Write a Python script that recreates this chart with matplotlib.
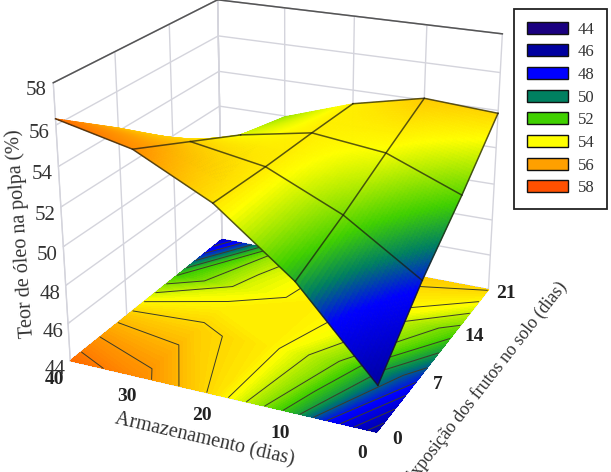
import numpy as np, matplotlib
matplotlib.use('Agg')
import matplotlib.pyplot as plt
from matplotlib.colors import LinearSegmentedColormap, Normalize
from matplotlib.patches import Patch
from matplotlib.transforms import ScaledTranslation

plt.rcParams['font.family'] = ['Liberation Serif', 'DejaVu Serif']

# ---- data ----
armazenamento = [0, 10, 20, 30, 40]
exposicao = [0, 7, 14, 21]
teor_exp0 = [46.35, 50.55, 53.55, 55.45, 56.3]
teor_exp7 = [49.1, 51.65, 53.4, 54.05, 54.15]
teor_exp14 = [51.35, 52.9, 53.35, 52.65, 51.0]
teor_exp21 = [53.85, 54.1, 53.25, 51.95, 47.5]
legend_values = [44, 46, 48, 50, 52, 54, 56, 58]
legend_colors = ['#1a0080', '#0000a0', '#0000ff', '#008060', '#40d000', '#ffff00', '#ffa000', '#ff5000']
z_ticks = [44, 46, 48, 50, 52, 54, 56, 58]

# ---- style ----
colour_stops = [44.0, 46.3, 48.8, 50.0, 51.1, 53.0, 55.0, 57.0]
GRID = '#d4d4dc'
arm = np.array(armazenamento, float)
exp = np.array(exposicao, float)
Z = np.array([teor_exp0, teor_exp7, teor_exp14, teor_exp21])  # rows: exp, cols: arm
X, Y = np.meshgrid(exp, arm, indexing='ij')

lo, hi = colour_stops[0], colour_stops[-1]
cmap = LinearSegmentedColormap.from_list(
    'teor', [((s - lo) / (hi - lo), c) for s, c in zip(colour_stops, legend_colors)], N=512)
norm = Normalize(lo, hi)

fig = plt.figure(figsize=(6.11, 4.72), dpi=100)
ax = fig.add_subplot(projection='3d', computed_zorder=False)
ax.set_xlim(0, 21); ax.set_ylim(0, 40); ax.set_zlim(44, 58)
ax.view_init(elev=21.981, azim=-155.2839)
ax.set_proj_type('persp', focal_length=0.5301)
ax.set_box_aspect((1.1435, 1.131, 1.0))
ax.set_position([0.0303, 0.013, 527.5344 / 611, 527.5344 / 472])

# floor map
ax.contourf(X, Y, Z, levels=np.arange(44, 58.01, 0.1), cmap=cmap, norm=norm,
            zdir='z', offset=44, zorder=1, antialiased=False)
ax.contour(X, Y, Z, levels=np.arange(44, 58.01, 0.7), colors='#3c3c28', linewidths=0.7,
           zdir='z', offset=44, zorder=2)

# surface, subdivided only so that the colour runs smoothly inside each cell
N = 24
u = np.linspace(0, len(exp) - 1, (len(exp) - 1) * N + 1)
v = np.linspace(0, len(arm) - 1, (len(arm) - 1) * N + 1)
i0 = np.minimum(u.astype(int), len(exp) - 2); j0 = np.minimum(v.astype(int), len(arm) - 2)
fu = (u - i0)[:, None]; fv = (v - j0)[None, :]
Zf = (Z[i0][:, j0] * (1 - fu) * (1 - fv) + Z[i0 + 1][:, j0] * fu * (1 - fv)
      + Z[i0][:, j0 + 1] * (1 - fu) * fv + Z[i0 + 1][:, j0 + 1] * fu * fv)
Xf, Yf = np.meshgrid(np.interp(u, np.arange(len(exp)), exp),
                     np.interp(v, np.arange(len(arm)), arm), indexing='ij')
cell = (Zf[:-1, :-1] + Zf[1:, :-1] + Zf[:-1, 1:] + Zf[1:, 1:]) / 4
fc = cmap(norm(cell))
surf = ax.plot_surface(Xf, Yf, Zf, facecolors=fc, rstride=1, cstride=1, shade=False,
                       linewidth=0.6, antialiased=True, zorder=3)
surf.set_edgecolors(fc.reshape(-1, 4))

# mesh lines that are visible in the reference
wire = dict(color='#1c1c10', alpha=0.72, lw=1.1, zorder=4)
ax.plot(X[0], Y[0], Z[0], **wire)
ax.plot(X[1, :4], Y[1, :4], Z[1, :4], **wire)
ax.plot(X[2, :4], Y[2, :4], Z[2, :4], **wire)
ax.plot(X[3, :3], Y[3, :3], Z[3, :3], **wire)
for j in (0, 1, 2):
    ax.plot(X[:, j], Y[:, j], Z[:, j], **wire)
ax.plot(X[:3, 3], Y[:3, 3], Z[:3, 3], **wire)

# axes
ax.set_xticks(exposicao); ax.set_yticks(armazenamento); ax.set_zticks(z_ticks)
for axis in (ax.xaxis, ax.yaxis, ax.zaxis):
    axis.set_pane_color((1, 1, 1, 1))
    axis.pane.set_edgecolor(GRID)
    axis.line.set_color(GRID)
    axis._axinfo['grid'].update(color=GRID, linewidth=1.0)
    axis._axinfo['tick'].update(inward_factor=0.0, outward_factor=0.12)
ax.yaxis.set_rotate_label(False)
ax.zaxis.set_rotate_label(False)
ax.tick_params(axis='x', labelsize=14, pad=3, colors='#222222')
ax.tick_params(axis='y', labelsize=14, pad=2, colors='#222222')
ax.tick_params(axis='z', labelsize=15, pad=1, colors='#333333')
for t in ax.get_xticklabels() + ax.get_yticklabels():
    t.set_fontweight('bold')
ax.tick_params(axis='both', color=GRID)
ax.set_xlabel('Exposição dos frutos no solo (dias)', fontsize=13, labelpad=18, color='#333333')
ax.set_ylabel('Armazenamento (dias)', fontsize=14.5, labelpad=12, color='#333333', rotation=-13)
ax.set_zlabel('Teor de óleo na polpa (%)', fontsize=14.5, labelpad=12, color='#333333', rotation=94)


def nudge(dx, dy):
    return ax.transData + ScaledTranslation(dx / fig.dpi, dy / fig.dpi, fig.dpi_scale_trans)


def nudge_ticks(axis, dx, dy):
    original = axis.get_major_ticks

    def get_major_ticks(numticks=None):
        ticks = original(numticks)
        for t in ticks:
            t.label1.set_transform(nudge(dx, dy))
        return ticks
    axis.get_major_ticks = get_major_ticks


def nudge_label(axis, dx, dy):
    axis.label.get_transform = lambda: nudge(dx, dy)


nudge_ticks(ax.xaxis, 2, 21)
nudge_ticks(ax.yaxis, -7, 10)
nudge_ticks(ax.zaxis, 6, 4)
nudge_label(ax.xaxis, -11, 35)
nudge_label(ax.yaxis, 14, 27)
nudge_label(ax.zaxis, 40, 5)

# dark top edges of the back walls
edge = dict(color='#555555', lw=1.1, zorder=0.5)
ax.plot([0, 21], [40, 40], [58, 58], **edge)
ax.plot([21, 21], [40, 0], [58, 58], **edge)

handles = [Patch(facecolor=c, edgecolor='#111111', linewidth=1.0, label=str(v))
           for c, v in zip(legend_colors, legend_values)]
leg = fig.legend(handles=handles, loc='upper left', bbox_to_anchor=(514 / 611, 1 - 9 / 472),
                 borderaxespad=0, fontsize=12, handlelength=2.46, handleheight=0.72,
                 labelspacing=0.40, handletextpad=0.6, borderpad=0.75, fancybox=False,
                 framealpha=1, edgecolor='#222222')
leg.get_frame().set_linewidth(1.3)
for t in leg.get_texts():
    t.set_color('#333333')

fig.savefig('out.png', dpi=100)
